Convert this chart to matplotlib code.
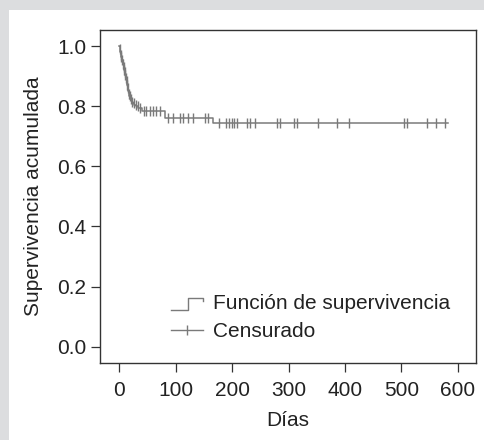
import numpy as np
import matplotlib
matplotlib.use('Agg')
import matplotlib.pyplot as plt
from matplotlib.lines import Line2D
from matplotlib.legend_handler import HandlerBase
from matplotlib.patches import Rectangle

plt.rcParams['font.family'] = ['Liberation Sans', 'DejaVu Sans']

# Kaplan-Meier curve: step start day and survival level
step_days = [0, 1, 2, 3, 4, 5, 6, 7, 8, 9, 10, 11, 12, 13, 14, 15, 16, 17, 18,
             20, 22, 24, 27, 30, 34, 40, 81, 166]
step_surv = [1.0, 0.99, 0.98, 0.97, 0.965, 0.955, 0.945, 0.94, 0.93, 0.92, 0.915,
             0.905, 0.895, 0.885, 0.87, 0.86, 0.85, 0.84, 0.835, 0.825, 0.815,
             0.81, 0.805, 0.80, 0.795, 0.785, 0.762, 0.744]
last_day = 582

# censored observations (days)
censored_days = [1, 3, 4, 5, 7, 8, 9, 10, 11, 12, 13, 14, 15, 17, 19, 21, 23, 26,
                 29, 33, 36, 44, 48, 55, 60, 65, 72,
                 87, 96, 108, 113, 122, 130, 152, 158,
                 176, 189, 195, 199, 204, 209, 227, 232, 241, 279, 285, 309, 315,
                 353, 385, 407, 504, 509, 545, 561, 577]

xticks = [0, 100, 200, 300, 400, 500, 600]
yticks = [0.0, 0.2, 0.4, 0.6, 0.8, 1.0]

line_col = '#7a7a7a'
text_col = '#222222'
fs = 15


class StepHandler(HandlerBase):
    def create_artists(self, legend, orig_handle, xdescent, ydescent,
                       width, height, fontsize, trans):
        x0 = -xdescent
        y0 = -ydescent
        xs = [x0, x0 + 0.53 * width, x0 + 0.53 * width, x0 + width, x0 + width]
        ys = [y0 - 0.05 * height, y0 - 0.05 * height, y0 + 0.8 * height,
              y0 + 0.8 * height, y0 + 0.6 * height]
        ln = Line2D(xs, ys, color=line_col, lw=1.0)
        ln.set_transform(trans)
        return [ln]


fig = plt.figure(figsize=(4.84, 4.4), dpi=100)
fig.patch.set_facecolor('#dcdddf')
fig.patches.append(Rectangle((9 / 484, 0), 1, 430 / 440, transform=fig.transFigure,
                             facecolor='white', edgecolor='none', zorder=-5))

ax = fig.add_axes([100 / 484, 77 / 440, 376 / 484, 333.5 / 440])
ax.set_zorder(1)

x_step = list(step_days) + [last_day]
y_step = list(step_surv) + [step_surv[-1]]
ax.step(x_step, y_step, where='post', color=line_col, lw=1.1)

idx = np.searchsorted(step_days, censored_days, side='right') - 1
cens_y = np.array(step_surv)[idx]
ax.plot(censored_days, cens_y, linestyle='none', marker='|', color=line_col,
        markersize=7, markeredgewidth=1.0)

ax.set_xlim(-34, 632)
ax.set_ylim(-0.054, 1.055)
ax.set_xticks(xticks)
ax.set_yticks(yticks)
ax.set_yticklabels(['%.1f' % v for v in yticks])

for s in ax.spines.values():
    s.set_color('#333333')
    s.set_linewidth(1.0)
ax.tick_params(axis='both', direction='out', length=6.8, width=0.9,
               colors='#333333', labelcolor=text_col, labelsize=fs)
ax.tick_params(axis='x', pad=6)
ax.tick_params(axis='y', pad=3)

ax.set_xlabel('Días', fontsize=fs, color=text_col)
ax.set_ylabel('Supervivencia acumulada', fontsize=fs, color=text_col)
ax.xaxis.set_label_coords(0.5, -0.171)
ax.xaxis.label.set_va('center')
ax.yaxis.set_label_coords(-0.178, 0.5)
ax.yaxis.label.set_va('center')

step_proxy = Line2D([], [], color=line_col)
cens_proxy = Line2D([], [], color=line_col, lw=1.0, marker='|', markersize=7,
                    markeredgewidth=1.0)
ax.legend([step_proxy, cens_proxy], ['Función de supervivencia', 'Censurado'],
          handler_map={step_proxy: StepHandler()},
          loc='center left', bbox_to_anchor=(0.189, 0.136), frameon=False,
          borderpad=0, borderaxespad=0, handlelength=1.55, handletextpad=0.48,
          labelspacing=0.42, numpoints=1, fontsize=fs, labelcolor=text_col)

fig.savefig('out.png', dpi=100)
